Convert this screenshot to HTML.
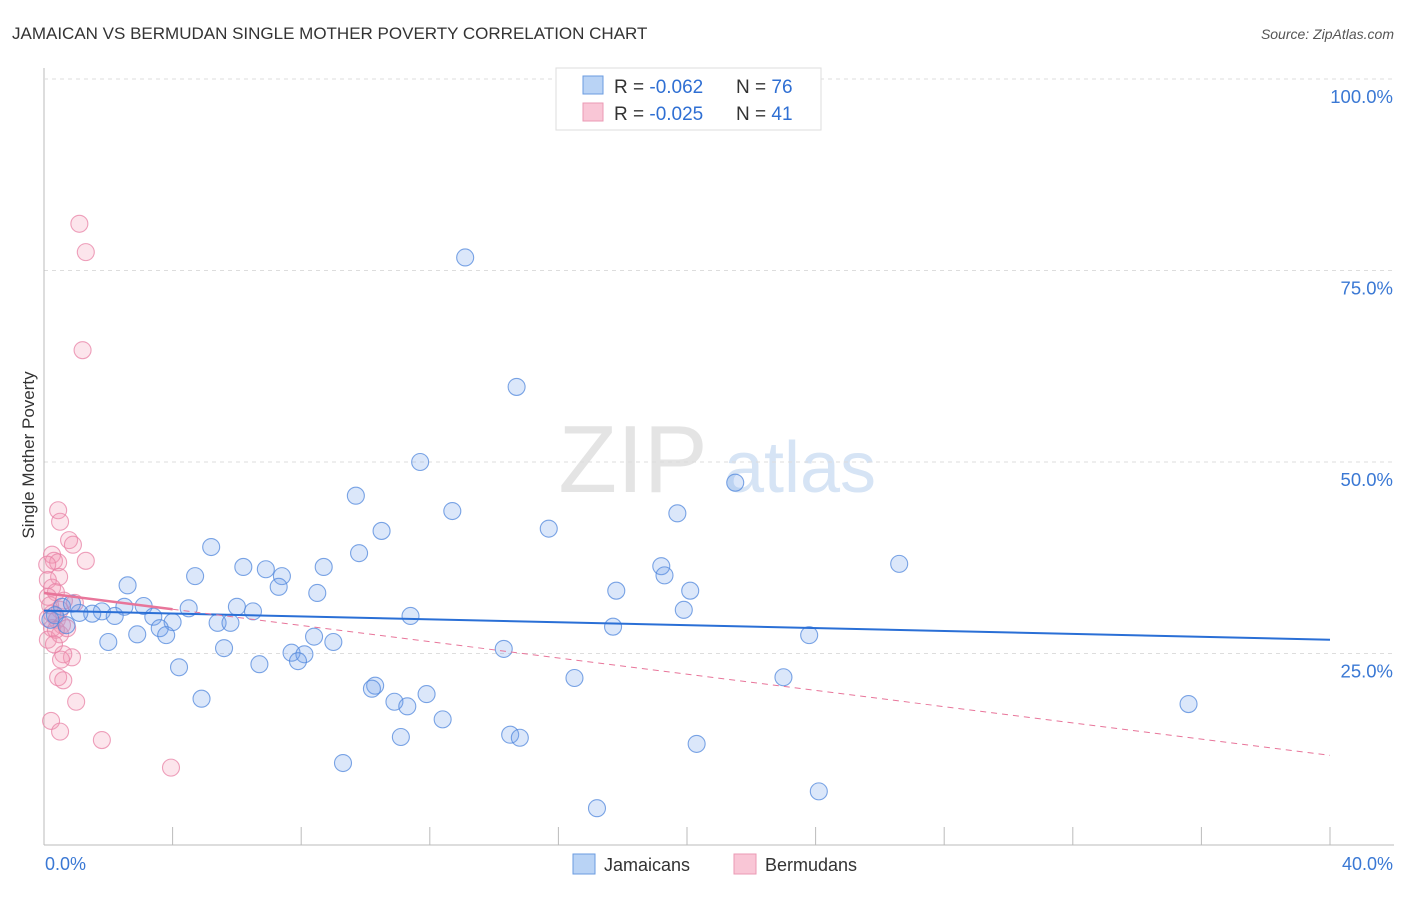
<!DOCTYPE html>
<html><head><meta charset="utf-8"><style>
body{margin:0;background:#fff;font-family:"Liberation Sans",sans-serif}
svg text{font-family:"Liberation Sans",sans-serif}
</style></head><body>
<svg id="c" width="1406" height="892">
<text x="12" y="39" font-size="17" fill="#333">JAMAICAN VS BERMUDAN SINGLE MOTHER POVERTY CORRELATION CHART</text>
<text x="1394" y="39" font-size="14" font-style="italic" fill="#555" text-anchor="end">Source: ZipAtlas.com</text>
<text x="633" y="492" font-size="96" font-family="Liberation Serif" fill="#e4e4e4" text-anchor="middle">ZIP</text>
<text x="800" y="492" font-size="72" fill="#d6e4f5" text-anchor="middle">atlas</text>
<text transform="translate(34,455) rotate(-90)" font-size="17" fill="#333" text-anchor="middle">Single Mother Poverty</text>
<g id="grid"></g><g id="pts"></g><g id="lines"></g>
<g>
<rect x="556" y="68" width="265" height="62" fill="#fff" stroke="#ddd"/>
<rect x="583" y="76" width="20" height="18" fill="#b9d3f5" stroke="#6a9be0"/>
<rect x="583" y="103" width="20" height="18" fill="#f9c6d6" stroke="#eb9ab4"/>
<text x="614" y="93" font-size="19" fill="#333">R = <tspan fill="#2f6fd3">-0.062</tspan></text>
<text x="736" y="93" font-size="19" fill="#333">N = <tspan fill="#2f6fd3">76</tspan></text>
<text x="614" y="120" font-size="19" fill="#333">R = <tspan fill="#2f6fd3">-0.025</tspan></text>
<text x="736" y="120" font-size="19" fill="#333">N = <tspan fill="#2f6fd3"> 41</tspan></text>
</g>
<g>
<rect x="573" y="854" width="22" height="20" fill="#b9d3f5" stroke="#6a9be0"/>
<text x="604" y="871" font-size="18" fill="#333">Jamaicans</text>
<rect x="734" y="854" width="22" height="20" fill="#f9c6d6" stroke="#eb9ab4"/>
<text x="765" y="871" font-size="18" fill="#333">Bermudans</text>
</g>
</svg>
<script>
const yTicks=[25,50,75,100];
const yTickLabels=["25.0%","50.0%","75.0%","100.0%"];
const xTicks=[0,4,8,12,16,20,24,28,32,36,40];
const jamX=[13.1,14.7,11.7,21.5,9.7,12.7,19.7,15.7,10.5,5.2,9.8,19.2,26.6,6.2,6.9,8.7,4.7,7.4,19.3,2.6,7.3,17.8,20.1,8.5,3.1,2.5,4.5,6.0,6.5,19.9,1.8,1.5,1.1,2.2,3.4,11.4,0.56,0.87,0.34,4.0,5.4,5.8,3.6,3.8,17.7,2.9,8.4,23.8,2.0,9.0,5.6,14.3,7.7,8.1,7.9,4.2,6.7,16.5,23.0,10.3,10.2,11.9,4.9,10.9,11.3,35.6,12.4,11.1,14.5,14.8,20.3,9.3,24.1,17.2,0.2,0.7];
const jamY=[76.7,59.8,50.0,47.3,45.6,43.6,43.3,41.3,41.0,38.9,38.1,36.4,36.7,36.3,36.0,36.3,35.1,35.1,35.2,33.9,33.7,33.2,33.2,32.9,31.2,31.1,30.9,31.1,30.5,30.7,30.5,30.2,30.3,29.9,29.8,29.9,31.1,31.5,30.0,29.1,29.0,29.0,28.3,27.4,28.5,27.5,27.2,27.4,26.5,26.5,25.7,25.6,25.1,24.9,24.0,23.2,23.6,21.8,21.9,20.8,20.4,19.7,19.1,18.7,18.1,18.4,16.4,14.1,14.4,14.0,13.2,10.7,7.0,4.8,29.4,28.7];
const berX=[1.1,1.3,1.2,0.44,0.5,0.78,0.9,0.25,0.31,0.44,1.3,0.47,0.12,0.25,0.37,0.12,0.96,0.19,0.5,0.25,0.12,0.4,0.56,0.25,0.12,0.5,0.37,0.87,0.6,0.53,0.44,0.6,1.0,0.22,0.5,1.8,3.95,0.62,0.72,0.31,0.1];
const berY=[81.1,77.4,64.6,43.7,42.2,39.8,39.2,37.9,37.1,36.9,37.1,35.0,34.6,33.6,33.0,32.4,31.6,31.3,30.7,30.2,29.6,29.4,28.7,28.3,26.8,27.5,28.1,24.5,24.9,24.2,21.9,21.5,18.7,16.2,14.8,13.7,10.1,31.9,28.3,26.2,36.6];
const jamTrend=[30.6,26.8];
const berTrend=[32.9,11.7];
const berSolidEnd=4;
const X0=44,X1=1330,Y0=845,YPER=7.66;
const sx=v=>X0+(X1-X0)*v/40, sy=v=>Y0-v*YPER;
const NS="http://www.w3.org/2000/svg";
function mk(t,a,p){const e=document.createElementNS(NS,t);for(const k in a)e.setAttribute(k,a[k]);p.appendChild(e);return e;}
const grid=document.getElementById('grid');
yTicks.forEach((t,i)=>{
 const l=mk('line',{x1:X0,x2:1394,y1:sy(t),y2:sy(t),stroke:'#ddd','stroke-dasharray':'4,4'},grid);
 
 
 const tx=mk('text',{x:1393,y:sy(t)+24,'font-size':18.5,fill:'#3a78d4','text-anchor':'end'},grid);tx.textContent=yTickLabels[i];
 
 
});
mk('line',{x1:X0,x2:X0,y1:68,y2:Y0,stroke:'#bbb'},grid);
mk('line',{x1:X0,x2:1394,y1:Y0,y2:Y0,stroke:'#bbb'},grid);
mk('line',{x1:X0,x2:1394,y1:79,y2:79,stroke:'#ddd','stroke-dasharray':'4,4'},grid);
xTicks.forEach(t=>{const l=mk('line',{x1:sx(t),x2:sx(t),y1:Y0,y2:Y0-18,stroke:'#bbb'},grid);
 
 });
let t0=mk('text',{x:45,y:870,'font-size':18,fill:'#3a78d4'},grid);t0.textContent='0.0%';


let t1=mk('text',{x:1393,y:870,'font-size':18,fill:'#3a78d4','text-anchor':'end'},grid);t1.textContent='40.0%';


const pts=document.getElementById('pts');
berX.forEach((x,i)=>{const c=mk('circle',{cx:sx(x),cy:sy(berY[i]),r:8.5,fill:'rgba(244,150,180,0.25)',stroke:'rgba(232,130,165,0.75)','stroke-width':1.1},pts);
 
 });
jamX.forEach((x,i)=>{const c=mk('circle',{cx:sx(x),cy:sy(jamY[i]),r:8.5,fill:'rgba(110,160,235,0.25)',stroke:'rgba(80,135,220,0.75)','stroke-width':1.1},pts);
 
 });
const L=document.getElementById('lines');
const bl=mk('line',{x1:sx(0),y1:sy(jamTrend[0]),x2:sx(40),y2:sy(jamTrend[1]),stroke:'#2a6fd6','stroke-width':2},L);


const by=x=>berTrend[0]+(berTrend[1]-berTrend[0])*x/40;
const pd=mk('line',{x1:sx(berSolidEnd),y1:sy(by(berSolidEnd)),x2:sx(40),y2:sy(berTrend[1]),stroke:'#e8759a','stroke-width':1,'stroke-dasharray':'6,5'},L);


const ps=mk('line',{x1:sx(0),y1:sy(berTrend[0]),x2:sx(berSolidEnd),y2:sy(by(berSolidEnd)),stroke:'#e8759a','stroke-width':2.5},L);


</script>
</body></html>
